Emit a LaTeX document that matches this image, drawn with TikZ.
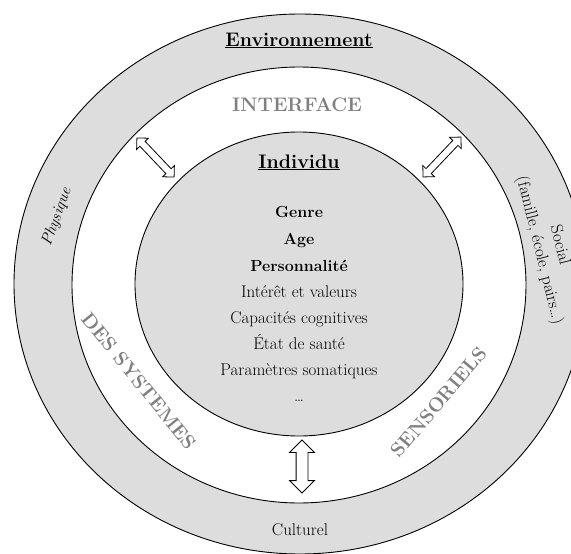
\documentclass[tikz,border=0pt]{standalone}
\usepackage{fontspec}
\usetikzlibrary{shapes.arrows}

\definecolor{anneau}{HTML}{DDDDDD}

\begin{document}
\begin{tikzpicture}[
  x=1pt,y=-1pt,
  ring/.style={draw,line width=.9pt},
  titre/.style={font=\fontsize{19.6}{23}\selectfont\bfseries},
  systeme/.style={font=\fontsize{19.6}{23}\selectfont\bfseries,text=black!50},
  trait/.style={font=\fontsize{17}{20}\selectfont,anchor=base},
  gras/.style={trait,font=\fontsize{16}{19}\selectfont\bfseries},
  milieu/.style={font=\fontsize{17}{21}\selectfont,align=center},
  echange/.style={shape=double arrow,draw,fill=white,line width=.8pt,
    double arrow head extend=4.5pt,inner sep=3.2pt}]
  \useasboundingbox (0,0) rectangle (571,554);

  % the three rings
  \draw[ring,fill=anneau] (300,284) ellipse [x radius=286,y radius=270];
  \draw[ring,fill=white] (299,285) ellipse [x radius=227,y radius=218];
  \draw[ring,fill=anneau] (299,284) ellipse [x radius=164,y radius=152];

  % environment
  \node[titre,anchor=base] (env) at (299,46) {\underline{Environnement}};
  \node[milieu,font=\fontsize{16}{21}\selectfont\itshape,rotate=70]
    (physique) at (57,217) {Physique};
  \node[milieu,rotate=-76] (social) at (549,248)
    {Social\\(famille, école, pairs\ldots)};
  \node[milieu,anchor=base] (culturel) at (300,535) {Culturel};

  % interface
  \node[systeme,anchor=base] (interface) at (297,111) {INTERFACE};
  \node[systeme,rotate=-51] (des) at (139,381) {DES SYSTEMES};
  \node[systeme,rotate=50] (sens) at (439,402) {SENSORIELS};

  % exchanges between the individual and the environment
  \node[echange,minimum height=54,rotate=-46.5] (echNO) at (155.5,157.5) {};
  \node[echange,minimum height=55,rotate=46.5] (echNE) at (442,157) {};
  \node[echange,minimum height=53,inner sep=5.5pt,
    double arrow head extend=6.5pt,rotate=90] (echS) at (302,466.5) {};

  % individual
  \node[titre,anchor=base] (indiv) at (299,168) {\underline{Individu}};
  \node[gras] (genre) at (299,217) {Genre};
  \node[gras] (age) at (299,244) {Age};
  \node[gras] (perso) at (299,271) {Personnalité};
  \node[trait] (interet) at (299,297) {Intérêt et valeurs};
  \node[trait] (capac) at (299,323) {Capacités cognitives};
  \node[trait] (sante) at (299,349) {État de santé};
  \node[trait] (soma) at (299,375) {Paramètres somatiques};
  \node[trait] (suite) at (299,401) {\ldots};
\end{tikzpicture}
\end{document}
